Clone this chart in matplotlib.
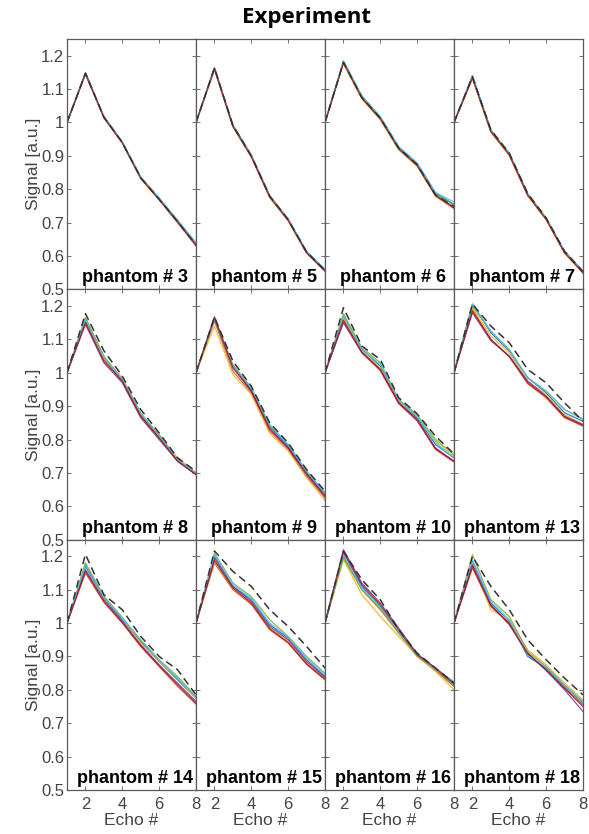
import matplotlib.pyplot as plt
from matplotlib.ticker import FormatStrFormatter

echo = [1, 2, 3, 4, 5, 6, 7, 8]
phantoms = [3, 5, 6, 7, 8, 9, 10, 13, 14, 15, 16, 18]

# matlab default line colours
colors = ['#0072BD', '#D95319', '#EDB120', '#7E2F8E', '#77AC30', '#4DBEEE', '#A2142F']

# dashed reference curve + measured curves (blue, orange, yellow, purple, green, cyan, maroon)
p3_sim = [1.0, 1.147, 1.016, 0.940, 0.834, 0.770, 0.703, 0.633]
p3_exp = [[1.0, 1.148, 1.017, 0.941, 0.835, 0.772, 0.705, 0.636],
          [1.0, 1.145, 1.014, 0.938, 0.832, 0.768, 0.700, 0.630],
          [1.0, 1.146, 1.015, 0.939, 0.833, 0.769, 0.701, 0.631],
          [1.0, 1.149, 1.016, 0.940, 0.834, 0.770, 0.702, 0.633],
          [1.0, 1.147, 1.017, 0.941, 0.836, 0.772, 0.706, 0.637],
          [1.0, 1.148, 1.018, 0.942, 0.837, 0.774, 0.708, 0.640],
          [1.0, 1.146, 1.015, 0.939, 0.833, 0.769, 0.702, 0.632]]

p5_sim = [1.0, 1.163, 0.991, 0.900, 0.779, 0.709, 0.612, 0.557]
p5_exp = [[1.0, 1.162, 0.992, 0.901, 0.780, 0.710, 0.613, 0.558],
          [1.0, 1.160, 0.988, 0.897, 0.776, 0.706, 0.609, 0.554],
          [1.0, 1.158, 0.987, 0.896, 0.775, 0.705, 0.608, 0.553],
          [1.0, 1.164, 0.990, 0.899, 0.778, 0.708, 0.611, 0.556],
          [1.0, 1.163, 0.992, 0.901, 0.780, 0.710, 0.613, 0.558],
          [1.0, 1.162, 0.993, 0.902, 0.781, 0.711, 0.614, 0.560],
          [1.0, 1.161, 0.989, 0.898, 0.777, 0.707, 0.610, 0.555]]

p6_sim = [1.0, 1.180, 1.075, 1.013, 0.923, 0.874, 0.783, 0.748]
p6_exp = [[1.0, 1.183, 1.078, 1.016, 0.926, 0.877, 0.788, 0.755],
          [1.0, 1.178, 1.072, 1.010, 0.920, 0.870, 0.779, 0.742],
          [1.0, 1.176, 1.070, 1.008, 0.918, 0.869, 0.780, 0.744],
          [1.0, 1.181, 1.075, 1.013, 0.922, 0.873, 0.782, 0.746],
          [1.0, 1.182, 1.078, 1.016, 0.925, 0.876, 0.786, 0.752],
          [1.0, 1.185, 1.080, 1.018, 0.928, 0.879, 0.790, 0.762],
          [1.0, 1.179, 1.073, 1.011, 0.921, 0.871, 0.781, 0.744]]

p7_sim = [1.0, 1.137, 0.978, 0.908, 0.787, 0.714, 0.614, 0.553]
p7_exp = [[1.0, 1.140, 0.977, 0.907, 0.786, 0.713, 0.614, 0.554],
          [1.0, 1.133, 0.972, 0.902, 0.781, 0.709, 0.609, 0.549],
          [1.0, 1.131, 0.971, 0.901, 0.780, 0.708, 0.608, 0.548],
          [1.0, 1.136, 0.975, 0.905, 0.784, 0.711, 0.611, 0.551],
          [1.0, 1.137, 0.976, 0.906, 0.785, 0.712, 0.612, 0.552],
          [1.0, 1.139, 0.977, 0.907, 0.786, 0.713, 0.614, 0.554],
          [1.0, 1.134, 0.973, 0.903, 0.782, 0.710, 0.610, 0.550]]

p8_sim = [1.0, 1.177, 1.066, 0.990, 0.890, 0.820, 0.745, 0.705]
p8_exp = [[1.0, 1.160, 1.045, 0.980, 0.875, 0.810, 0.740, 0.700],
          [1.0, 1.155, 1.040, 0.975, 0.870, 0.805, 0.735, 0.695],
          [1.0, 1.165, 1.045, 0.985, 0.880, 0.810, 0.745, 0.700],
          [1.0, 1.145, 1.030, 0.970, 0.865, 0.800, 0.735, 0.695],
          [1.0, 1.165, 1.050, 0.980, 0.875, 0.815, 0.740, 0.700],
          [1.0, 1.160, 1.045, 0.980, 0.880, 0.810, 0.740, 0.700],
          [1.0, 1.150, 1.035, 0.975, 0.870, 0.805, 0.735, 0.695]]

p9_sim = [1.0, 1.167, 1.035, 0.960, 0.850, 0.790, 0.710, 0.645]
p9_exp = [[1.0, 1.160, 1.020, 0.950, 0.840, 0.780, 0.700, 0.635],
          [1.0, 1.155, 1.005, 0.940, 0.825, 0.770, 0.690, 0.625],
          [1.0, 1.140, 0.995, 0.935, 0.818, 0.766, 0.686, 0.617],
          [1.0, 1.168, 1.020, 0.945, 0.835, 0.775, 0.700, 0.630],
          [1.0, 1.163, 1.025, 0.955, 0.840, 0.785, 0.705, 0.640],
          [1.0, 1.160, 1.020, 0.955, 0.845, 0.785, 0.705, 0.640],
          [1.0, 1.165, 1.015, 0.945, 0.830, 0.775, 0.695, 0.630]]

p10_sim = [1.0, 1.195, 1.080, 1.040, 0.925, 0.877, 0.810, 0.757]
p10_exp = [[1.0, 1.170, 1.070, 1.020, 0.915, 0.865, 0.785, 0.745],
           [1.0, 1.155, 1.060, 1.006, 0.907, 0.856, 0.770, 0.732],
           [1.0, 1.165, 1.065, 1.015, 0.915, 0.870, 0.795, 0.750],
           [1.0, 1.150, 1.060, 1.010, 0.910, 0.860, 0.775, 0.735],
           [1.0, 1.177, 1.075, 1.030, 0.920, 0.875, 0.800, 0.755],
           [1.0, 1.170, 1.070, 1.025, 0.920, 0.870, 0.790, 0.745],
           [1.0, 1.158, 1.062, 1.010, 0.910, 0.858, 0.772, 0.735]]

p13_sim = [1.0, 1.206, 1.140, 1.090, 1.010, 0.970, 0.910, 0.855]
p13_exp = [[1.0, 1.206, 1.120, 1.065, 0.985, 0.940, 0.880, 0.855],
           [1.0, 1.190, 1.100, 1.050, 0.967, 0.925, 0.865, 0.840],
           [1.0, 1.195, 1.110, 1.060, 0.975, 0.935, 0.875, 0.845],
           [1.0, 1.180, 1.096, 1.050, 0.975, 0.930, 0.870, 0.845],
           [1.0, 1.200, 1.125, 1.070, 0.985, 0.945, 0.890, 0.860],
           [1.0, 1.206, 1.125, 1.068, 0.985, 0.945, 0.890, 0.862],
           [1.0, 1.185, 1.100, 1.048, 0.970, 0.928, 0.868, 0.842]]

p14_sim = [1.0, 1.206, 1.085, 1.040, 0.960, 0.900, 0.860, 0.785]
p14_exp = [[1.0, 1.170, 1.075, 1.010, 0.945, 0.885, 0.830, 0.775],
           [1.0, 1.150, 1.062, 1.000, 0.930, 0.870, 0.810, 0.757],
           [1.0, 1.180, 1.080, 1.015, 0.940, 0.885, 0.835, 0.775],
           [1.0, 1.160, 1.070, 1.005, 0.935, 0.875, 0.820, 0.765],
           [1.0, 1.180, 1.080, 1.017, 0.948, 0.890, 0.840, 0.780],
           [1.0, 1.175, 1.075, 1.015, 0.950, 0.890, 0.835, 0.778],
           [1.0, 1.155, 1.065, 1.002, 0.932, 0.872, 0.815, 0.760]]

p15_sim = [1.0, 1.216, 1.155, 1.110, 1.040, 0.990, 0.930, 0.865]
p15_exp = [[1.0, 1.200, 1.110, 1.070, 0.995, 0.955, 0.890, 0.840],
           [1.0, 1.180, 1.100, 1.056, 0.980, 0.940, 0.876, 0.830],
           [1.0, 1.185, 1.105, 1.060, 0.985, 0.945, 0.880, 0.835],
           [1.0, 1.195, 1.110, 1.065, 0.990, 0.950, 0.885, 0.838],
           [1.0, 1.210, 1.120, 1.080, 1.010, 0.960, 0.900, 0.850],
           [1.0, 1.205, 1.115, 1.075, 1.000, 0.958, 0.895, 0.845],
           [1.0, 1.188, 1.105, 1.060, 0.983, 0.942, 0.878, 0.832]]

p16_sim = [1.0, 1.215, 1.130, 1.070, 0.980, 0.910, 0.865, 0.820]
p16_exp = [[1.0, 1.210, 1.110, 1.050, 0.975, 0.905, 0.860, 0.815],
           [1.0, 1.200, 1.100, 1.040, 0.970, 0.900, 0.858, 0.810],
           [1.0, 1.190, 1.085, 1.020, 0.960, 0.902, 0.855, 0.800],
           [1.0, 1.220, 1.120, 1.060, 0.985, 0.908, 0.865, 0.822],
           [1.0, 1.195, 1.100, 1.045, 0.970, 0.902, 0.860, 0.815],
           [1.0, 1.205, 1.105, 1.050, 0.975, 0.905, 0.862, 0.825],
           [1.0, 1.215, 1.115, 1.055, 0.980, 0.905, 0.865, 0.818]]

p18_sim = [1.0, 1.200, 1.110, 1.040, 0.950, 0.890, 0.835, 0.785]
p18_exp = [[1.0, 1.185, 1.060, 1.005, 0.900, 0.865, 0.810, 0.760],
           [1.0, 1.165, 1.050, 1.000, 0.910, 0.860, 0.805, 0.755],
           [1.0, 1.180, 1.040, 1.010, 0.920, 0.875, 0.820, 0.770],
           [1.0, 1.175, 1.055, 0.995, 0.910, 0.858, 0.800, 0.735],
           [1.0, 1.205, 1.070, 1.020, 0.915, 0.870, 0.815, 0.765],
           [1.0, 1.190, 1.065, 1.010, 0.905, 0.868, 0.812, 0.762],
           [1.0, 1.170, 1.052, 0.998, 0.908, 0.860, 0.805, 0.750]]

sim_curves = [p3_sim, p5_sim, p6_sim, p7_sim, p8_sim, p9_sim,
              p10_sim, p13_sim, p14_sim, p15_sim, p16_sim, p18_sim]
exp_curves = [p3_exp, p5_exp, p6_exp, p7_exp, p8_exp, p9_exp,
              p10_exp, p13_exp, p14_exp, p15_exp, p16_exp, p18_exp]

yticks = [0.5, 0.6, 0.7, 0.8, 0.9, 1.0, 1.1, 1.2]
xticks = [2, 4, 6, 8]

plt.rcParams['font.family'] = ['Liberation Sans', 'DejaVu Sans']

fig = plt.figure(figsize=(5.89, 8.34), dpi=100)
gs = fig.add_gridspec(3, 4, left=0.1138, right=0.9898, top=0.9532, bottom=0.0528,
                      hspace=0, wspace=0)

axc = '#5a5a5a'
txtc = '#444444'
for i, ph in enumerate(phantoms):
    r, c = divmod(i, 4)
    ax = fig.add_subplot(gs[r, c])
    for k, line in enumerate(exp_curves[i]):
        ax.plot(echo, line, color=colors[k], lw=0.9, alpha=0.85)
    ax.plot(echo, sim_curves[i], color='#333333', lw=1.1, ls=(0, (5, 3)))
    ax.set_xlim(1, 8)
    ax.set_ylim(0.5, 1.25)
    ax.set_xticks(xticks)
    ax.set_yticks(yticks)
    ax.yaxis.set_major_formatter(FormatStrFormatter('%g'))
    ax.tick_params(direction='in', length=3, width=0.6, colors=axc,
                   labelsize=12, labelcolor=txtc,
                   top=True, right=True, pad=2)
    ax.tick_params(axis='x', pad=5)
    for s in ax.spines.values():
        s.set_color(axc)
        s.set_linewidth(0.9)
    if c != 0:
        ax.set_yticklabels([])
    else:
        ax.set_ylabel('Signal [a.u.]', fontsize=12.5, color=txtc, labelpad=0)
    if r != 2:
        ax.set_xticklabels([])
    else:
        ax.set_xlabel('Echo #', fontsize=12.5, color=txtc, labelpad=1)
    ax.text(0.53, 0.012, 'phantom # %d' % ph, transform=ax.transAxes,
            ha='center', va='bottom', fontsize=13, fontweight='bold')

fig.text(0.521, 0.979, 'Experiment', ha='center', va='center', fontsize=16,
         fontweight='bold', family=['Open Sans', 'DejaVu Sans'])

plt.savefig('out.png', dpi=100)
